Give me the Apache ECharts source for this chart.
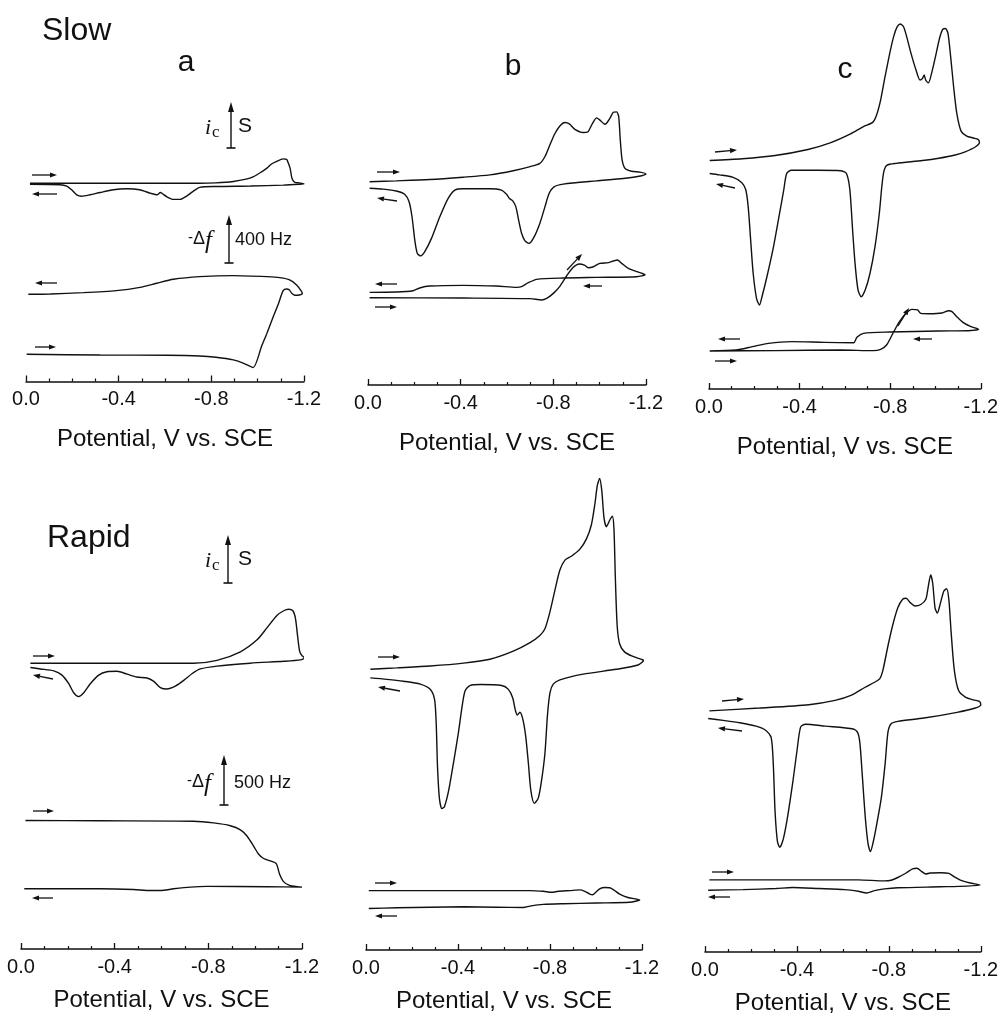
<!DOCTYPE html>
<html>
<head>
<meta charset="utf-8">
<script src="https://cdn.jsdelivr.net/npm/echarts@6/dist/echarts.min.js"></script>
<style>
  html, body { margin: 0; padding: 0; background: #fff; }
  #chart { width: 1001px; height: 1022px; }
</style>
</head>
<body>
<div id="chart"></div>
<script>
// Cyclic voltammograms (current, in units of the "S" bar) and quartz-crystal
// frequency traces (-Δf, Hz) versus potential (V vs. SCE).
// Each trace is listed in scan order: cathodic sweep out to -1.2 V, then back.

const potentialTicks = [0, -0.4, -0.8, -1.2];

// ---- Slow scan ----
const slowA_current = [[-0.017,0],[-0.32,0],[-0.75,0],[-0.82,0.01],[-0.895,0.04],[-0.95,0.09],[-0.98,0.14],[-1.017,0.25],[-1.04,0.33],[-1.06,0.42],[-1.08,0.47],[-1.11,0.53],[-1.125,0.52],[-1.13,0.47],[-1.14,0.33],[-1.148,0.11],[-1.16,0.02],[-1.18,0.01],[-1.2,-0.01],
  [-1.18,-0.02],[-1.11,-0.04],[-0.97,-0.06],[-0.82,-0.07],[-0.75,-0.09],[-0.72,-0.18],[-0.69,-0.29],[-0.665,-0.35],[-0.636,-0.35],[-0.607,-0.29],[-0.59,-0.23],[-0.58,-0.2],[-0.567,-0.25],[-0.54,-0.22],[-0.49,-0.14],[-0.435,-0.12],[-0.377,-0.14],[-0.32,-0.2],[-0.276,-0.25],[-0.24,-0.28],[-0.219,-0.25],[-0.197,-0.14],[-0.176,-0.06],[-0.147,-0.03],[-0.017,-0.02]];
const slowA_freq = [[-0.003,0],[-0.32,-6],[-0.61,-8],[-0.75,-14],[-0.82,-25],[-0.895,-47],[-0.94,-75],[-0.98,-111],[-1.017,67],[-1.04,175],[-1.068,317],[-1.09,424],[-1.11,531],[-1.125,544],[-1.137,536],[-1.147,508],[-1.16,492],[-1.18,494],[-1.193,508],
  [-1.187,531],[-1.168,578],[-1.14,619],[-1.096,639],[-1.04,647],[-0.895,656],[-0.75,647],[-0.636,625],[-0.564,592],[-0.492,558],[-0.39,531],[-0.247,514],[-0.104,503],[-0.01,500]];

const slowB_current = [[-0.007,0.07],[-0.122,0.09],[-0.267,0.12],[-0.41,0.17],[-0.526,0.22],[-0.627,0.31],[-0.7,0.4],[-0.742,0.47],[-0.764,0.62],[-0.785,0.87],[-0.807,1.12],[-0.829,1.29],[-0.85,1.36],[-0.869,1.33],[-0.893,1.21],[-0.929,1.14],[-0.95,1.16],[-0.968,1.33],[-0.987,1.46],[-1.001,1.41],[-1.023,1.32],[-1.042,1.43],[-1.059,1.58],[-1.073,1.59],[-1.082,1.49],[-1.089,0.98],[-1.097,0.54],[-1.11,0.36],[-1.138,0.3],[-1.174,0.28],[-1.2,0.24],
  [-1.182,0.2],[-1.102,0.14],[-0.987,0.09],[-0.843,0.02],[-0.803,-0.04],[-0.782,-0.18],[-0.764,-0.47],[-0.742,-0.83],[-0.716,-1.14],[-0.695,-1.27],[-0.677,-1.21],[-0.663,-1.05],[-0.65,-0.76],[-0.638,-0.47],[-0.624,-0.34],[-0.612,-0.3],[-0.598,-0.2],[-0.576,-0.11],[-0.526,-0.08],[-0.41,-0.08],[-0.375,-0.11],[-0.346,-0.29],[-0.31,-0.69],[-0.274,-1.16],[-0.245,-1.45],[-0.228,-1.54],[-0.213,-1.49],[-0.202,-1.2],[-0.19,-0.69],[-0.177,-0.36],[-0.158,-0.2],[-0.122,-0.13],[-0.065,-0.09],[-0.007,-0.07]];
const slowB_freq = [[-0.007,0],[-0.41,-3],[-0.7,-8],[-0.75,-19],[-0.771,-6],[-0.8,36],[-0.829,97],[-0.857,181],[-0.886,253],[-0.912,281],[-0.934,272],[-0.951,250],[-0.973,258],[-1.001,286],[-1.037,292],[-1.059,306],[-1.076,314],[-1.095,286],[-1.124,244],[-1.16,217],[-1.196,192],
  [-1.16,175],[-0.987,169],[-0.843,164],[-0.728,153],[-0.692,125],[-0.663,92],[-0.641,86],[-0.555,97],[-0.41,103],[-0.267,97],[-0.223,81],[-0.195,58],[-0.122,47],[-0.007,44]];

const slowC_current = [[-0.003,0.14],[-0.147,0.18],[-0.292,0.25],[-0.437,0.38],[-0.538,0.53],[-0.625,0.72],[-0.682,0.88],[-0.723,0.97],[-0.74,1.13],[-0.758,1.46],[-0.776,1.93],[-0.798,2.47],[-0.815,2.83],[-0.83,3.04],[-0.844,3.11],[-0.859,3.05],[-0.873,2.83],[-0.892,2.47],[-0.914,2.11],[-0.932,1.89],[-0.943,1.93],[-0.95,2.0],[-0.957,1.89],[-0.969,1.83],[-0.983,2.04],[-1.0,2.4],[-1.018,2.8],[-1.032,2.99],[-1.044,3.01],[-1.055,2.91],[-1.067,2.4],[-1.08,1.75],[-1.094,1.17],[-1.113,0.78],[-1.138,0.67],[-1.167,0.63],[-1.188,0.6],[-1.194,0.53],
  [-1.177,0.44],[-1.131,0.33],[-1.087,0.26],[-1.015,0.19],[-0.943,0.14],[-0.827,0.08],[-0.786,0.04],[-0.772,-0.1],[-0.763,-0.43],[-0.752,-1.01],[-0.733,-1.73],[-0.711,-2.31],[-0.69,-2.67],[-0.672,-2.82],[-0.658,-2.67],[-0.646,-2.16],[-0.635,-1.44],[-0.622,-0.5],[-0.607,-0.14],[-0.581,-0.08],[-0.48,-0.07],[-0.364,-0.07],[-0.343,-0.14],[-0.33,-0.5],[-0.309,-1.08],[-0.285,-1.73],[-0.256,-2.38],[-0.234,-2.82],[-0.223,-3.0],[-0.21,-2.86],[-0.195,-2.31],[-0.184,-1.59],[-0.173,-0.86],[-0.162,-0.49],[-0.145,-0.34],[-0.104,-0.22],[-0.046,-0.17],[-0.003,-0.14]];
const slowC_freq = [[-0.003,0],[-0.292,3],[-0.581,8],[-0.726,3],[-0.758,14],[-0.784,50],[-0.812,147],[-0.841,244],[-0.87,314],[-0.896,347],[-0.921,342],[-0.935,314],[-0.972,311],[-1.029,317],[-1.058,336],[-1.073,328],[-1.094,286],[-1.123,236],[-1.157,203],[-1.191,181],
  [-1.145,169],[-1.015,167],[-0.798,158],[-0.682,147],[-0.653,114],[-0.639,69],[-0.509,72],[-0.364,78],[-0.263,64],[-0.191,36],[-0.119,8],[-0.003,0]];

// ---- Rapid scan ----
const rapidA_current = [[-0.04,0.05],[-0.339,0.05],[-0.737,0.05],[-0.837,0.11],[-0.937,0.29],[-1.008,0.54],[-1.05,0.79],[-1.093,1.05],[-1.122,1.15],[-1.143,1.18],[-1.161,1.15],[-1.172,0.99],[-1.181,0.63],[-1.19,0.3],[-1.2,0.21],[-1.211,0.16],
  [-1.193,0.12],[-1.122,0.09],[-0.979,0.05],[-0.837,-0.01],[-0.766,-0.07],[-0.73,-0.17],[-0.695,-0.31],[-0.659,-0.43],[-0.623,-0.49],[-0.595,-0.46],[-0.567,-0.33],[-0.538,-0.26],[-0.495,-0.24],[-0.453,-0.18],[-0.41,-0.12],[-0.367,-0.13],[-0.332,-0.2],[-0.296,-0.38],[-0.268,-0.57],[-0.246,-0.65],[-0.225,-0.57],[-0.204,-0.38],[-0.175,-0.2],[-0.14,-0.11],[-0.083,-0.07],[-0.04,-0.04]];
const rapidA_freq = [[-0.019,0],[-0.339,-3],[-0.737,-7],[-0.823,-24],[-0.894,-52],[-0.937,-93],[-0.965,-155],[-0.994,-259],[-1.015,-338],[-1.036,-380],[-1.065,-404],[-1.09,-431],[-1.104,-535],[-1.121,-611],[-1.147,-649],[-1.179,-662],[-1.2,-666],
  [-1.05,-662],[-0.794,-659],[-0.723,-666],[-0.652,-683],[-0.595,-700],[-0.552,-700],[-0.481,-690],[-0.339,-683],[-0.014,-683]];

const rapidB_current = [[-0.019,0.09],[-0.134,0.12],[-0.279,0.16],[-0.424,0.22],[-0.539,0.3],[-0.64,0.47],[-0.713,0.65],[-0.756,0.8],[-0.778,0.94],[-0.8,1.3],[-0.821,1.74],[-0.843,2.17],[-0.865,2.38],[-0.893,2.46],[-0.93,2.61],[-0.959,2.83],[-0.98,3.12],[-0.995,3.55],[-1.006,3.95],[-1.016,4.09],[-1.025,3.84],[-1.035,3.26],[-1.045,3.08],[-1.06,3.22],[-1.071,3.3],[-1.078,3.04],[-1.084,2.03],[-1.092,1.01],[-1.103,0.62],[-1.125,0.45],[-1.161,0.36],[-1.197,0.3],[-1.207,0.28],
  [-1.183,0.18],[-1.089,0.09],[-0.944,-0.01],[-0.843,-0.13],[-0.814,-0.22],[-0.8,-0.4],[-0.789,-0.87],[-0.778,-1.67],[-0.763,-2.25],[-0.749,-2.61],[-0.732,-2.72],[-0.717,-2.46],[-0.706,-1.88],[-0.694,-1.3],[-0.681,-0.94],[-0.669,-0.81],[-0.658,-0.87],[-0.649,-0.76],[-0.638,-0.51],[-0.619,-0.33],[-0.59,-0.25],[-0.496,-0.23],[-0.452,-0.25],[-0.431,-0.36],[-0.419,-0.65],[-0.402,-1.23],[-0.38,-1.88],[-0.359,-2.46],[-0.341,-2.79],[-0.33,-2.83],[-0.319,-2.61],[-0.311,-1.96],[-0.305,-1.01],[-0.298,-0.54],[-0.279,-0.33],[-0.236,-0.22],[-0.163,-0.16],[-0.091,-0.12],[-0.019,-0.09]];
const rapidB_freq = [[-0.012,0],[-0.424,0],[-0.713,0],[-0.771,-7],[-0.807,-17],[-0.836,-7],[-0.886,0],[-0.93,7],[-0.951,-7],[-0.973,-35],[-0.985,-41],[-0.999,-17],[-1.016,17],[-1.038,31],[-1.06,28],[-1.077,7],[-1.103,-35],[-1.139,-69],[-1.19,-93],
  [-1.146,-117],[-1.002,-124],[-0.857,-131],[-0.771,-138],[-0.713,-155],[-0.684,-169],[-0.568,-166],[-0.424,-162],[-0.279,-166],[-0.134,-172],[-0.012,-179]];

const rapidC_current = [[-0.019,0.08],[-0.237,0.14],[-0.452,0.21],[-0.566,0.3],[-0.638,0.41],[-0.695,0.57],[-0.738,0.68],[-0.76,0.75],[-0.774,0.93],[-0.796,1.44],[-0.817,1.88],[-0.839,2.24],[-0.86,2.42],[-0.875,2.44],[-0.893,2.35],[-0.913,2.28],[-0.939,2.31],[-0.961,2.42],[-0.971,2.67],[-0.982,2.93],[-0.991,2.75],[-1.001,2.24],[-1.011,2.13],[-1.025,2.35],[-1.039,2.59],[-1.051,2.64],[-1.061,2.42],[-1.071,1.73],[-1.085,0.93],[-1.104,0.5],[-1.133,0.37],[-1.168,0.31],[-1.194,0.28],[-1.2,0.21],
  [-1.176,0.14],[-1.097,0.05],[-0.953,-0.07],[-0.839,-0.14],[-0.81,-0.19],[-0.796,-0.37],[-0.784,-1.02],[-0.767,-1.75],[-0.746,-2.33],[-0.731,-2.69],[-0.72,-2.87],[-0.71,-2.72],[-0.698,-2.18],[-0.684,-1.24],[-0.674,-0.59],[-0.664,-0.37],[-0.645,-0.3],[-0.523,-0.24],[-0.437,-0.2],[-0.416,-0.26],[-0.401,-0.73],[-0.383,-1.38],[-0.358,-2.18],[-0.34,-2.62],[-0.325,-2.78],[-0.315,-2.65],[-0.305,-2.04],[-0.297,-1.02],[-0.288,-0.48],[-0.265,-0.33],[-0.222,-0.24],[-0.151,-0.17],[-0.079,-0.12],[-0.014,-0.08]];
const rapidC_freq = [[-0.019,0],[-0.38,0],[-0.667,0],[-0.781,-10],[-0.81,-3],[-0.839,24],[-0.875,69],[-0.903,110],[-0.922,117],[-0.942,86],[-0.961,59],[-0.979,69],[-1.025,72],[-1.061,66],[-1.085,31],[-1.111,-3],[-1.154,-31],[-1.197,-52],
  [-1.14,-62],[-1.025,-69],[-0.839,-79],[-0.781,-90],[-0.738,-107],[-0.703,-131],[-0.667,-114],[-0.609,-97],[-0.495,-86],[-0.38,-76],[-0.308,-86],[-0.165,-97],[-0.014,-103]];

const rowTitles = ['Slow', 'Rapid'];
const columnLetters = ['a', 'b', 'c'];
const axisTitle = 'Potential, V vs. SCE';
const scaleBars = [{ current: 'S', freq: '400 Hz' }, { current: 'S', freq: '500 Hz' }];

// ---- Layout (pixels) ----
// iZero / fZero: pixel row of zero current / zero frequency shift;
// iPx: pixels per current unit; fPx: pixels per Hz.
const SANS = '"Liberation Sans", Arial, Helvetica, sans-serif';
const SERIF = '"Liberation Serif", "DejaVu Serif", serif';
const INK = '#111';

const panels = [
  { cur: slowA_current,  frq: slowA_freq,  left: 26,  right: 304, top: 0,   axisY: 381.5, iZero: 183.3, fZero: 354.3, iPx: 46,   fPx: 0.12, gap: 46 },
  { cur: slowB_current,  frq: slowB_freq,  left: 368, right: 646, top: 0,   axisY: 385,   iZero: 185,   fZero: 297.7, iPx: 46,   fPx: 0.12, gap: 46 },
  { cur: slowC_current,  frq: slowC_freq,  left: 709, right: 986, top: 0,   axisY: 389,   iZero: 167,   fZero: 351,   iPx: 46,   fPx: 0.12, gap: 46 },
  { cur: rapidA_current, frq: rapidA_freq, left: 21,  right: 302, top: 470, axisY: 949,   iZero: 665.6, fZero: 820.5, iPx: 47.7, fPx: 0.1,  gap: 39 },
  { cur: rapidB_current, frq: rapidB_freq, left: 366, right: 642, top: 470, axisY: 950,   iZero: 673.6, fZero: 890.6, iPx: 47.7, fPx: 0.1,  gap: 39 },
  { cur: rapidC_current, frq: rapidC_freq, left: 705, right: 984, top: 470, axisY: 952,   iZero: 714.7, fZero: 879.9, iPx: 47.7, fPx: 0.1,  gap: 39 }
];

const grid = [], xAxis = [], yAxis = [], series = [];
panels.forEach((p, k) => {
  grid.push({ left: p.left, top: p.top, width: p.right - p.left, height: p.axisY - p.top });
  xAxis.push({
    gridIndex: k, type: 'value', min: -1.2, max: 0, interval: 0.4, inverse: true, position: 'bottom',
    name: axisTitle, nameLocation: 'middle', nameGap: p.gap,
    nameTextStyle: { fontFamily: SANS, fontSize: 24, color: INK },
    axisLine: { onZero: false, lineStyle: { color: INK, width: 1.5 } },
    axisTick: { inside: true, length: 6, lineStyle: { color: INK, width: 1.3 } },
    minorTick: { show: true, splitNumber: 4, length: 3, lineStyle: { color: INK, width: 1.2 } },
    splitLine: { show: false }, minorSplitLine: { show: false },
    axisLabel: {
      margin: 8, fontFamily: SANS, fontSize: 20, color: INK,
      customValues: potentialTicks,
      formatter: v => (Math.abs(v) < 1e-9 ? '0.0' : v.toFixed(1))
    }
  });
  yAxis.push({ gridIndex: k, type: 'value', show: false,
    min: (p.iZero - p.axisY) / p.iPx, max: (p.iZero - p.top) / p.iPx });
  yAxis.push({ gridIndex: k, type: 'value', show: false,
    min: (p.fZero - p.axisY) / p.fPx, max: (p.fZero - p.top) / p.fPx });
  const lineBase = { type: 'line', xAxisIndex: k, showSymbol: false, symbol: 'none', smooth: 0.25,
    clip: false, silent: true, lineStyle: { color: INK, width: 1.4 } };
  series.push(Object.assign({}, lineBase, { yAxisIndex: 2 * k, data: p.cur }));
  series.push(Object.assign({}, lineBase, { yAxisIndex: 2 * k + 1, data: p.frq }));
});

// ---- Annotation drawing helpers ----
function scanArrow(x1, y1, x2, y2) {
  const ang = Math.atan2(y2 - y1, x2 - x1), L = 7, W = 2.6;
  const bx = x2 - L * Math.cos(ang), by = y2 - L * Math.sin(ang);
  const nx = -Math.sin(ang) * W, ny = Math.cos(ang) * W;
  return [
    { type: 'line', silent: true, shape: { x1, y1, x2: bx, y2: by }, style: { stroke: INK, lineWidth: 1.3 } },
    { type: 'polygon', silent: true, shape: { points: [[x2, y2], [bx + nx, by + ny], [bx - nx, by - ny]] }, style: { fill: INK } }
  ];
}
function scaleBar(x, yTop, yBot) {
  return [
    { type: 'line', silent: true, shape: { x1: x, y1: yBot, x2: x, y2: yTop + 8 }, style: { stroke: INK, lineWidth: 1.4 } },
    { type: 'polygon', silent: true, shape: { points: [[x, yTop], [x - 3, yTop + 10], [x + 3, yTop + 10]] }, style: { fill: INK } },
    { type: 'line', silent: true, shape: { x1: x - 4.5, y1: yBot, x2: x + 4.5, y2: yBot }, style: { stroke: INK, lineWidth: 1.6 } }
  ];
}
// text centred vertically on y
function txt(x, y, text, font, align) {
  return { type: 'text', silent: true, x, y,
    style: { text, font, fill: INK, align: align || 'left', verticalAlign: 'middle' } };
}
function currentLabel(x, y, unit) {   // "i" with subscript "c", then the unit
  return [
    txt(x, y, 'i', 'italic 22px ' + SERIF),
    txt(x + 7, y + 5, 'c', '17px ' + SERIF),
    txt(x + 33, y - 2, unit, '21px ' + SANS)
  ];
}
function freqLabel(x, y, unit) {      // "-Δf" and the unit
  return [
    txt(x, y - 1, '-', '15px ' + SANS),
    txt(x + 5, y, 'Δ', '18px ' + SANS),
    txt(x + 17, y + 2, 'f', 'italic 25px ' + SERIF),
    txt(x + 47, y + 1, unit, '18px ' + SANS)
  ];
}

const graphics = [];
// Row titles and column letters
graphics.push(txt(42, 31, rowTitles[0], '32px ' + SANS));
graphics.push(txt(47, 538, rowTitles[1], '32px ' + SANS));
graphics.push(txt(186, 63, columnLetters[0], '30px ' + SANS, 'center'));
graphics.push(txt(513, 67, columnLetters[1], '30px ' + SANS, 'center'));
graphics.push(txt(845, 70, columnLetters[2], '30px ' + SANS, 'center'));

// Scale bars (slow row, then rapid row)
graphics.push(...scaleBar(231, 102, 148), ...currentLabel(205, 128, scaleBars[0].current));
graphics.push(...scaleBar(229, 215, 263), ...freqLabel(188, 239, scaleBars[0].freq));
graphics.push(...scaleBar(228, 535, 583), ...currentLabel(205, 561, scaleBars[1].current));
graphics.push(...scaleBar(224, 755, 805), ...freqLabel(187, 782, scaleBars[1].freq));

// Scan-direction arrows [x1, y1, x2, y2] (tail -> head)
const scanArrows = [
  [32,175,57,175], [57,194,32,194], [57,283,35,283], [35,347,56,347],
  [377,172,400,172], [397,201,377,198], [397,284,375,284], [375,307,397,307], [567,270,582,254], [602,286,583,286],
  [715,152,737,150], [735,188,716,184], [740,339,718,339], [715,361,737,361], [898,326,909,308], [932,339,913,339],
  [33,656,55,656], [53,679,33,675], [33,811,54,811], [53,898,32,898],
  [378,657,400,657], [400,691,378,687], [375,883,397,883], [397,916,375,916],
  [722,701,744,699], [742,731,718,728], [712,872,734,872], [730,897,708,897]
];
scanArrows.forEach(a => graphics.push(...scanArrow(a[0], a[1], a[2], a[3])));

const chart = echarts.init(document.getElementById('chart'), null, { renderer: 'canvas' });
chart.setOption({
  animation: false,
  backgroundColor: '#fff',
  grid, xAxis, yAxis, series,
  graphic: { elements: graphics }
});
</script>
</body>
</html>
